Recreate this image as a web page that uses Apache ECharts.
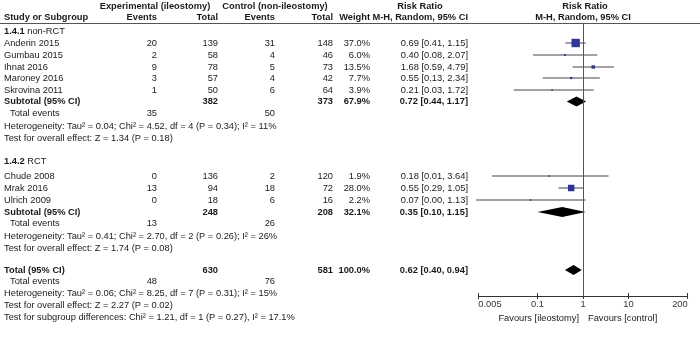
<!DOCTYPE html>
<html lang="en">
<head>
<meta charset="utf-8">
<title>Risk ratio forest plot</title>
<script src="https://cdn.jsdelivr.net/npm/echarts@6.0.0/dist/echarts.min.js"></script>
<style>
  html, body { margin: 0; padding: 0; background: #fff; }
  #chart { width: 700px; height: 341px; }
</style>
</head>
<body>
<div id="chart"></div>
<script>
// ---- data ----
var studies    = ['Anderin 2015', 'Gumbau 2015', 'Ihnat 2016', 'Maroney 2016', 'Skrovina 2011', 'Chude 2008', 'Mrak 2016', 'Ulrich 2009'];
var studyGroup = [0, 0, 0, 0, 0, 1, 1, 1];
var expEvents  = [20, 2, 9, 3, 1, 0, 13, 0];
var expTotal   = [139, 58, 78, 57, 50, 136, 94, 18];
var ctlEvents  = [31, 4, 5, 4, 6, 2, 18, 6];
var ctlTotal   = [148, 46, 73, 42, 64, 120, 72, 16];
var weights    = [37.0, 6.0, 13.5, 7.7, 3.9, 1.9, 28.0, 2.2];
var rr         = [0.69, 0.40, 1.68, 0.55, 0.21, 0.18, 0.55, 0.07];
var rrLow      = [0.41, 0.08, 0.59, 0.13, 0.03, 0.01, 0.29, 0.0045];
var rrHigh     = [1.15, 2.07, 4.79, 2.34, 1.72, 3.64, 1.05, 1.13];

var groupIds       = ['1.4.1', '1.4.2'];
var groupNames     = ['non-RCT', 'RCT'];
var subExpTotal    = [382, 248];
var subCtlTotal    = [373, 208];
var subExpEvents   = [35, 13];
var subCtlEvents   = [50, 26];
var subWeight      = [67.9, 32.1];
var subRR          = [0.72, 0.35];
var subLow         = [0.44, 0.10];
var subHigh        = [1.17, 1.15];
var subHetero      = ['Heterogeneity: Tau\u00b2 = 0.04; Chi\u00b2 = 4.52, df = 4 (P = 0.34); I\u00b2 = 11%',
                      'Heterogeneity: Tau\u00b2 = 0.41; Chi\u00b2 = 2.70, df = 2 (P = 0.26); I\u00b2 = 26%'];
var subEffect      = ['Test for overall effect: Z = 1.34 (P = 0.18)',
                      'Test for overall effect: Z = 1.74 (P = 0.08)'];

var totExpTotal = 630, totCtlTotal = 581, totExpEvents = 48, totCtlEvents = 76, totWeight = 100.0;
var totRR = 0.62, totLow = 0.40, totHigh = 0.94;
var totHetero   = 'Heterogeneity: Tau\u00b2 = 0.06; Chi\u00b2 = 8.25, df = 7 (P = 0.31); I\u00b2 = 15%';
var totEffect   = 'Test for overall effect: Z = 2.27 (P = 0.02)';
var totSubgroup = 'Test for subgroup differences: Chi\u00b2 = 1.21, df = 1 (P = 0.27), I\u00b2 = 17.1%';

var axisTicks = [0.005, 0.1, 1, 10, 200];

// ---- layout (pixels) ----
var FONT = '"Liberation Sans", Arial, sans-serif';
var FS = 9.3;
var col = { name: 4, indent: 10, expEv: 157, expTot: 218, ctlEv: 275, ctlTot: 333, weight: 370, rrText: 468 };
var rowsG = [
  { head: 31, studies: [43, 55, 67, 78, 90], sub: 101.5, ev: 113, het: 126, eff: 138 },
  { head: 161, studies: [176, 188, 200], sub: 212, ev: 223, het: 236, eff: 248 }
];
var rowTot = { tot: 270, ev: 281, het: 293, eff: 305, sg: 317 };
var plotTop = 23, axisY = 296;

function fmtRR(e, l, h) { return e.toFixed(2) + ' [' + l.toFixed(2) + ', ' + h.toFixed(2) + ']'; }

// ---- text items ----
var texts = [];
function t(x, y, s, align, bold, rich) { texts.push({ x: x, y: y, s: String(s), align: align || 'left', bold: !!bold, rich: rich }); }

t(155, 6, 'Experimental (ileostomy)', 'center', true);
t(275, 6, 'Control (non-ileostomy)', 'center', true);
t(420, 6, 'Risk Ratio', 'center', true);
t(585, 6, 'Risk Ratio', 'center', true);
t(col.name, 17, 'Study or Subgroup', 'left', true);
t(col.expEv, 17, 'Events', 'right', true);
t(col.expTot, 17, 'Total', 'right', true);
t(col.ctlEv, 17, 'Events', 'right', true);
t(col.ctlTot, 17, 'Total', 'right', true);
t(col.weight, 17, 'Weight', 'right', true);
t(col.rrText, 17, 'M-H, Random, 95% CI', 'right', true);
t(583, 17, 'M-H, Random, 95% CI', 'center', true);

var forestData = [];
groupIds.forEach(function (gid, g) {
  var L = rowsG[g];
  t(col.name, L.head, '{b|' + gid + '} ' + groupNames[g], 'left', false, true);
  var k = 0;
  studies.forEach(function (name, i) {
    if (studyGroup[i] !== g) return;
    var y = L.studies[k++];
    t(col.name, y, name);
    t(col.expEv, y, expEvents[i], 'right');
    t(col.expTot, y, expTotal[i], 'right');
    t(col.ctlEv, y, ctlEvents[i], 'right');
    t(col.ctlTot, y, ctlTotal[i], 'right');
    t(col.weight, y, weights[i].toFixed(1) + '%', 'right');
    t(col.rrText, y, fmtRR(rr[i], rrLow[i], rrHigh[i]), 'right');
    forestData.push({ value: [rr[i], y, rrLow[i], rrHigh[i], weights[i], 0] });
  });
  t(col.name, L.sub, 'Subtotal (95% CI)', 'left', true);
  t(col.expTot, L.sub, subExpTotal[g], 'right', true);
  t(col.ctlTot, L.sub, subCtlTotal[g], 'right', true);
  t(col.weight, L.sub, subWeight[g].toFixed(1) + '%', 'right', true);
  t(col.rrText, L.sub, fmtRR(subRR[g], subLow[g], subHigh[g]), 'right', true);
  forestData.push({ value: [subRR[g], L.sub, subLow[g], subHigh[g], subWeight[g], 1] });
  t(col.indent, L.ev, 'Total events');
  t(col.expEv, L.ev, subExpEvents[g], 'right');
  t(col.ctlEv, L.ev, subCtlEvents[g], 'right');
  t(col.name, L.het, subHetero[g]);
  t(col.name, L.eff, subEffect[g]);
});

t(col.name, rowTot.tot, 'Total (95% CI)', 'left', true);
t(col.expTot, rowTot.tot, totExpTotal, 'right', true);
t(col.ctlTot, rowTot.tot, totCtlTotal, 'right', true);
t(col.weight, rowTot.tot, totWeight.toFixed(1) + '%', 'right', true);
t(col.rrText, rowTot.tot, fmtRR(totRR, totLow, totHigh), 'right', true);
forestData.push({ value: [totRR, rowTot.tot, totLow, totHigh, totWeight, 1] });
t(col.indent, rowTot.ev, 'Total events');
t(col.expEv, rowTot.ev, totExpEvents, 'right');
t(col.ctlEv, rowTot.ev, totCtlEvents, 'right');
t(col.name, rowTot.het, totHetero);
t(col.name, rowTot.eff, totEffect);
t(col.name, rowTot.sg, totSubgroup);
t(579, 318, 'Favours [ileostomy]', 'right');
t(588, 318, 'Favours [control]', 'left');

var chart = echarts.init(document.getElementById('chart'));

var option = {
  animation: false,
  backgroundColor: '#fff',
  textStyle: { fontFamily: FONT },
  grid: [
    { left: 0, right: 0, top: 0, bottom: 0 },
    { left: 478.3, width: 209.4, top: plotTop, bottom: 341 - axisY }
  ],
  xAxis: [
    { gridIndex: 0, type: 'value', min: 0, max: 700, show: false },
    {
      gridIndex: 1, type: 'log', logBase: 10, min: 0.005, max: 200, position: 'bottom',
      axisLine: { show: true, lineStyle: { color: '#333', width: 1 } },
      axisTick: { show: true, inside: true, length: 3, customValues: axisTicks, lineStyle: { color: '#333' } },
      axisLabel: { show: true, customValues: axisTicks, margin: 4, color: '#333', fontSize: FS, fontFamily: FONT,
                   alignMinLabel: 'left', alignMaxLabel: 'right',
                   formatter: function (v) { return String(v); } },
      splitLine: { show: false }, minorTick: { show: false }
    },
    {
      gridIndex: 1, type: 'log', logBase: 10, min: 0.005, max: 200, position: 'bottom',
      axisLine: { show: false },
      axisTick: { show: true, inside: false, length: 3, customValues: axisTicks, lineStyle: { color: '#333' } },
      axisLabel: { show: false }, splitLine: { show: false }
    }
  ],
  yAxis: [
    { gridIndex: 0, type: 'value', min: 0, max: 341, inverse: true, show: false },
    { gridIndex: 1, type: 'value', min: plotTop, max: axisY, inverse: true, show: false }
  ],
  series: [
    {
      // table text
      type: 'custom',
      xAxisIndex: 0, yAxisIndex: 0,
      silent: true,
      clip: false,
      data: texts.map(function (d) { return [d.x, d.y]; }),
      renderItem: function (params, api) {
        var d = texts[params.dataIndex];
        var p = api.coord([d.x, d.y]);
        var style = {
          text: d.s,
          fill: '#1a1a1a',
          font: (d.bold ? 'bold ' : '') + FS + 'px ' + FONT,
          align: d.align,
          verticalAlign: 'middle'
        };
        if (d.rich) {
          style.rich = { b: { fontWeight: 'bold', fontSize: FS, fontFamily: FONT, fill: '#1a1a1a' } };
        }
        return { type: 'text', x: p[0], y: p[1], style: style };
      },
      markLine: {
        silent: true, symbol: 'none', label: { show: false },
        lineStyle: { color: '#555', width: 1, type: 'solid' },
        data: [{ yAxis: plotTop }]
      }
    },
    {
      // forest marks
      type: 'custom',
      xAxisIndex: 1, yAxisIndex: 1,
      silent: true,
      clip: false,
      data: forestData,
      renderItem: function (params, api) {
        var est = api.value(0), y = api.value(1), lo = api.value(2), hi = api.value(3), w = api.value(4), kind = api.value(5);
        var pe = api.coord([est, y]), pl = api.coord([lo, y]), ph = api.coord([hi, y]);
        if (kind === 1) {
          var h = 5;
          return {
            type: 'polygon',
            shape: { points: [[pl[0], pe[1]], [pe[0], pe[1] - h], [ph[0], pe[1]], [pe[0], pe[1] + h]] },
            style: { fill: '#000' }
          };
        }
        var s = Math.max(1.6, w * 0.21 + 0.6);
        return {
          type: 'group',
          children: [
            { type: 'line', shape: { x1: pl[0], y1: pl[1], x2: ph[0], y2: ph[1] }, style: { stroke: '#444', lineWidth: 1 } },
            { type: 'rect', shape: { x: pe[0] - s / 2, y: pe[1] - s / 2, width: s, height: s }, style: { fill: '#2f3597' } }
          ]
        };
      },
      markLine: {
        silent: true, symbol: 'none', label: { show: false },
        lineStyle: { color: '#555', width: 1, type: 'solid' },
        data: [{ xAxis: 1 }]
      }
    }
  ]
};

chart.setOption(option);
</script>
</body>
</html>
